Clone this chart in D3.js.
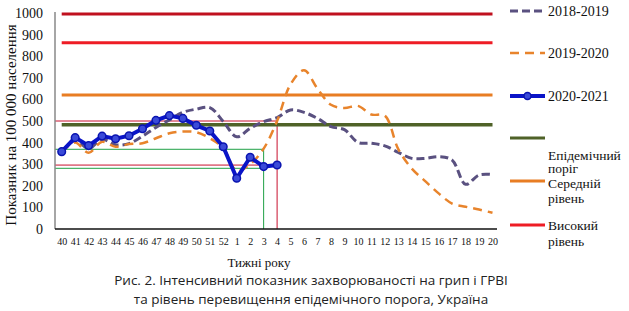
<!DOCTYPE html>
<html><head><meta charset="utf-8">
<script src="https://cdn.jsdelivr.net/npm/d3@7"></script>
<style>body{margin:0;background:#fff}svg{display:block}</style>
</head><body>
<svg id="c" width="629" height="311"></svg>
<script>
const weeks = ["40","41","42","43","44","45","46","47","48","49","50","51","52","1","2","3","4","5","6","7","8","9","10","11","12","13","14","15","16","17","18","19","20"];
const s2018 = [358,410,372,415,390,395,430,470,505,540,555,562,498,427,466,497,516,551,540,512,474,460,401,397,385,355,327,327,335,319,207,250,252];
const s2019 = [358,400,353,404,381,393,397,420,443,451,448,420,374,270,300,372,500,670,735,650,575,560,570,530,525,370,280,222,165,118,103,90,75];
const s2020 = [358,423,386,430,418,432,464,503,525,512,480,454,381,235,332,289,296];
const yTicks = [0,100,200,300,400,500,600,700,800,900,1000];
const epidemicLevel = 483;
const mediumLevel = 620;
const highLevels = [995, 862];
const guideRed = [500, 296];   // to week 4
const guideGreen = [369, 281]; // to week 3
const guideRedWeek = "4", guideGreenWeek = "3";
const seriesNames = ["2018-2019","2019-2020","2020-2021"];
const levelNames = [["Епідемічний","поріг"],["Середній","рівень"],["Високий","рівень"]];

const svg = d3.select("#c");
const x = d3.scalePoint().domain(weeks).range([61.7, 492.5]);
const y = d3.scaleLinear().domain([0,1000]).range([229,13]);
const X0 = 55, X1 = 497;
const serif = "'Liberation Serif','Times New Roman',serif";

// guide lines
const g = svg.append("g");
guideRed.forEach(v => g.append("line").attr("x1",X0).attr("x2",x(guideRedWeek)).attr("y1",y(v)).attr("y2",y(v)).attr("stroke","#c8102e").attr("stroke-width",1));
guideGreen.forEach(v => g.append("line").attr("x1",X0).attr("x2",x(guideGreenWeek)).attr("y1",y(v)).attr("y2",y(v)).attr("stroke","#1fa045").attr("stroke-width",1));
g.append("line").attr("x1",x(guideGreenWeek)).attr("x2",x(guideGreenWeek)).attr("y1",y(0)).attr("y2",y(d3.max(guideGreen))).attr("stroke","#1fa045").attr("stroke-width",1);
g.append("line").attr("x1",x(guideRedWeek)).attr("x2",x(guideRedWeek)).attr("y1",y(0)).attr("y2",y(d3.max(guideRed))).attr("stroke","#c8102e").attr("stroke-width",1);

// level lines
const hl = (v,c,w)=>svg.append("line").attr("x1",x(weeks[0])).attr("x2",x(weeks[weeks.length-1])).attr("y1",y(v)).attr("y2",y(v)).attr("stroke",c).attr("stroke-width",w);
hl(highLevels[0],"#c0101e",3);
hl(highLevels[1],"#ee1c25",3);
hl(mediumLevel,"#e87d23",3);
hl(epidemicLevel,"#4f6228",3.5);

// axes
svg.append("line").attr("x1",X0).attr("x2",X0).attr("y1",y(1000)-1).attr("y2",y(0)).attr("stroke","#888").attr("stroke-width",1.5);
svg.append("line").attr("x1",X0).attr("x2",X1).attr("y1",y(0)).attr("y2",y(0)).attr("stroke","#111").attr("stroke-width",1.5);

const ya = svg.append("g").attr("transform",`translate(${X0},0)`).call(d3.axisLeft(y).tickValues(yTicks).tickFormat(d3.format("d")).tickSize(0).tickPadding(12));
ya.select(".domain").remove();
ya.selectAll("text").attr("font-family",serif).attr("font-size",14).attr("fill","#111");

const xa = svg.append("g").attr("transform",`translate(0,${y(0)})`).call(d3.axisBottom(x).tickSize(0).tickPadding(9));
xa.select(".domain").remove();
xa.selectAll("text").attr("font-family",serif).attr("font-size",10).attr("fill","#111");

// series
const line = d3.line().x((d,i)=>x(weeks[i])).y(d=>y(d));
svg.append("path").attr("d",line.curve(d3.curveCatmullRom)(s2018)).attr("fill","none").attr("stroke","#5a5180").attr("stroke-width",3).attr("stroke-dasharray","8,4");
svg.append("path").attr("d",line.curve(d3.curveCatmullRom)(s2019)).attr("fill","none").attr("stroke","#e8842c").attr("stroke-width",2.5).attr("stroke-dasharray","9,6");
svg.append("path").attr("d",line.curve(d3.curveLinear)(s2020)).attr("fill","none").attr("stroke","#0a14c8").attr("stroke-width",4);
svg.append("g").selectAll("circle").data(s2020).join("circle").attr("cx",(d,i)=>x(weeks[i])).attr("cy",d=>y(d)).attr("r",3.8).attr("fill","#3a4ad8").attr("stroke","#0a14b0").attr("stroke-width",1.5);

// legend
const L = svg.append("g");
const lx1 = 510, lx2 = 545, tx = 548;
const legY = [11, 53, 96];
L.append("line").attr("x1",lx1).attr("x2",lx2).attr("y1",legY[0]).attr("y2",legY[0]).attr("stroke","#5a5180").attr("stroke-width",3).attr("stroke-dasharray","8,4");
L.append("line").attr("x1",lx1).attr("x2",lx2).attr("y1",legY[1]).attr("y2",legY[1]).attr("stroke","#e8842c").attr("stroke-width",2.5).attr("stroke-dasharray","9,6");
L.append("line").attr("x1",lx1).attr("x2",lx2).attr("y1",legY[2]).attr("y2",legY[2]).attr("stroke","#0a14c8").attr("stroke-width",4);
L.append("circle").attr("cx",(lx1+lx2)/2).attr("cy",legY[2]).attr("r",3.5).attr("fill","#3a4ad8").attr("stroke","#0a14b0").attr("stroke-width",1.5);
seriesNames.forEach((n,i)=>L.append("text").attr("x",tx).attr("y",legY[i]).attr("dy","0.35em").attr("font-family",serif).attr("font-size",14).attr("fill","#111").text(n));

const lvlY = [138, 181, 225];
const lvlC = ["#4f6228","#e87d23","#ee1c25"];
lvlY.forEach((yy,i)=>L.append("line").attr("x1",lx1).attr("x2",lx2).attr("y1",yy).attr("y2",yy).attr("stroke",lvlC[i]).attr("stroke-width",3));
const lvlT = [[155,168.5],[183,198],[225,241.5]];
levelNames.forEach((arr,i)=>arr.forEach((t,j)=>L.append("text").attr("x",tx).attr("y",lvlT[i][j]).attr("dy","0.35em").attr("font-family",serif).attr("font-size",13.5).attr("fill","#111").text(t)));

// titles
svg.append("text").attr("transform","translate(11,125) rotate(-90)").attr("text-anchor","middle").attr("dy","0.35em").attr("font-family",serif).attr("font-size",15).attr("fill","#111").text("Показник на 100 000 населення");
svg.append("text").attr("x",259).attr("y",262).attr("text-anchor","middle").attr("dy","0.35em").attr("font-family",serif).attr("font-size",13).attr("fill","#111").text("Тижні року");
const sans = "'Open Sans','Noto Sans',sans-serif";
svg.append("text").attr("x",311).attr("y",280).attr("text-anchor","middle").attr("dy","0.35em").attr("font-family",sans).attr("font-size",13.5).attr("fill","#222").text("Рис. 2. Інтенсивний показник захворюваності на грип і ГРВІ");
svg.append("text").attr("x",311).attr("y",299).attr("text-anchor","middle").attr("dy","0.35em").attr("font-family",sans).attr("font-size",13.5).attr("fill","#222").text("та рівень перевищення епідемічного порога, Україна");
</script>
</body></html>
